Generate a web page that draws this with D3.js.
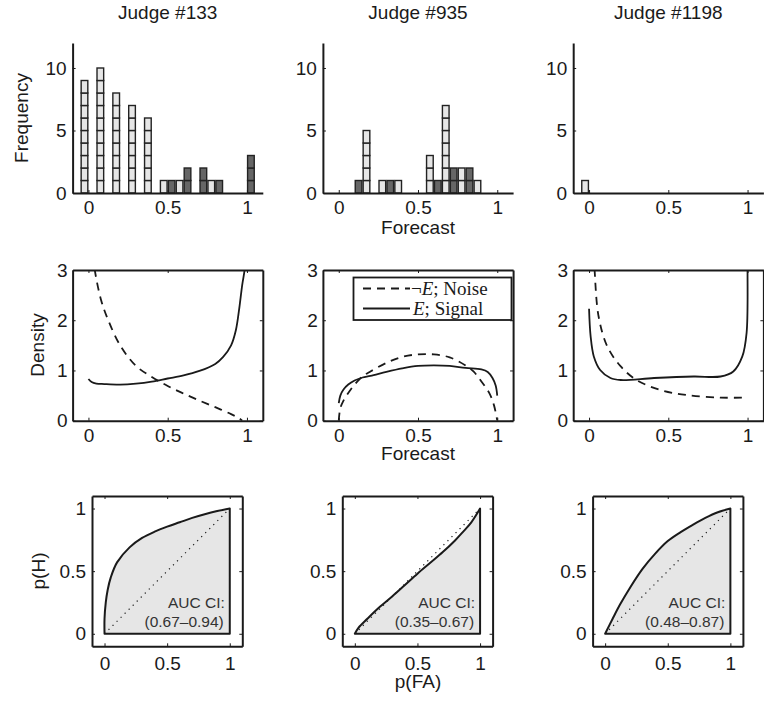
<!DOCTYPE html>
<html><head><meta charset="utf-8">
<script src="https://cdn.jsdelivr.net/npm/d3@7"></script>
<style>body{margin:0;background:#fff} svg{display:block}</style>
</head><body><svg id="c" width="764" height="703"></svg>
<script>
// ---------- data ----------
const judges = ["Judge #133", "Judge #935", "Judge #1198"];
const forecastTicks = [0, 0.5, 1];
const freqTicks = [0, 5, 10];
const densityTicks = [0, 1, 2, 3];
const rocTicks = [0, 0.5, 1];

// histogram bins (bin centre) and counts; light = noise, dark = signal
const noiseBins133 = [-0.025, 0.075, 0.175, 0.275, 0.375, 0.475, 0.575, 0.775];
const noiseCounts133 = [9, 10, 8, 7, 6, 1, 1, 1];
const signalBins133 = [0.525, 0.625, 0.725, 0.825, 1.025];
const signalCounts133 = [1, 2, 2, 1, 3];
const noiseBins935 = [0.175, 0.275, 0.375, 0.575, 0.675, 0.775, 0.875];
const noiseCounts935 = [5, 1, 1, 3, 7, 2, 1];
const signalBins935 = [0.125, 0.325, 0.625, 0.725, 0.825];
const signalCounts935 = [1, 1, 1, 2, 2];
const noiseBins1198 = [-0.025];
const noiseCounts1198 = [1];
const signalBins1198 = [];
const signalCounts1198 = [];

// density curves [forecast, density]
const noiseDens133 = [[0.03,3.3],[0.04,3.0],[0.08,2.4],[0.125,2.0],[0.2,1.5],[0.3,1.09],[0.4,0.87],[0.5,0.69],[0.6,0.54],[0.7,0.40],[0.8,0.27],[0.9,0.13],[0.95,0.05],[0.97,0]];
const signalDens133 = [[0,0.83],[0.02,0.77],[0.05,0.74],[0.1,0.73],[0.2,0.72],[0.3,0.74],[0.4,0.78],[0.5,0.84],[0.6,0.9],[0.7,0.99],[0.8,1.13],[0.85,1.27],[0.9,1.5],[0.93,1.8],[0.95,2.2],[0.97,2.7],[0.985,3.0],[0.99,3.3]];
const noiseDens935 = [[0,0],[0.01,0.25],[0.03,0.4],[0.06,0.55],[0.1,0.72],[0.15,0.88],[0.2,0.98],[0.3,1.15],[0.4,1.27],[0.5,1.32],[0.6,1.32],[0.7,1.26],[0.8,1.1],[0.85,0.98],[0.9,0.78],[0.95,0.55],[0.98,0.3],[1.0,0]];
const signalDens935 = [[0,0.35],[0.01,0.5],[0.03,0.62],[0.06,0.72],[0.1,0.8],[0.15,0.86],[0.2,0.89],[0.3,0.97],[0.4,1.04],[0.5,1.09],[0.6,1.1],[0.7,1.09],[0.8,1.05],[0.9,1.02],[0.94,0.97],[0.97,0.85],[0.99,0.7],[1.0,0.5]];
const noiseDens1198 = [[0.03,3.3],[0.035,3.0],[0.06,2.08],[0.115,1.48],[0.2,1.08],[0.3,0.81],[0.45,0.61],[0.62,0.51],[0.83,0.46],[1.0,0.46]];
const signalDens1198 = [[0,2.23],[0.01,1.68],[0.03,1.28],[0.07,1.01],[0.135,0.85],[0.2,0.81],[0.41,0.85],[0.66,0.88],[0.83,0.88],[0.91,0.98],[0.967,1.28],[0.994,1.75],[1.0,3.0],[1.0,3.3]];

// ROC curves [p(FA), p(H)]
const roc133 = [[0,0],[0,0.12],[0.01,0.25],[0.025,0.35],[0.05,0.45],[0.1,0.57],[0.2,0.69],[0.3,0.765],[0.4,0.815],[0.5,0.855],[0.6,0.89],[0.7,0.925],[0.8,0.955],[0.9,0.98],[1,1]];
const roc935 = [[0,0],[0.03,0.05],[0.1,0.12],[0.2,0.215],[0.3,0.3],[0.4,0.39],[0.5,0.48],[0.6,0.565],[0.7,0.65],[0.8,0.745],[0.86,0.81],[0.93,0.89],[1,1]];
const roc1198 = [[0,0],[0.06,0.12],[0.12,0.235],[0.2,0.37],[0.3,0.52],[0.4,0.64],[0.5,0.74],[0.6,0.81],[0.7,0.87],[0.8,0.925],[0.9,0.97],[1,1]];
const aucLabel = "AUC CI:";
const aucCI = ["(0.67\u20130.94)", "(0.35\u20130.67)", "(0.48\u20130.87)"];

const histNoise = [[noiseBins133, noiseCounts133],[noiseBins935, noiseCounts935],[noiseBins1198, noiseCounts1198]];
const histSignal = [[signalBins133, signalCounts133],[signalBins935, signalCounts935],[signalBins1198, signalCounts1198]];
const densNoise = [noiseDens133, noiseDens935, noiseDens1198];
const densSignal = [signalDens133, signalDens935, signalDens1198];
const rocs = [roc133, roc935, roc1198];

// ---------- drawing ----------
const svg = d3.select("#c");
const font = '"Liberation Sans", Arial, Helvetica, sans-serif';
const serif = '"Liberation Serif", "Times New Roman", serif';
const ink = "#1a1a1a";
const colOff = 250.3;
const barW = 0.042;
const FS = 19;
const fmt = d3.format("");

function styleAxis(g, labels) {
  g.attr("font-family", font).attr("font-size", FS);
  g.select(".domain").attr("stroke", ink).attr("stroke-width", 2);
  g.selectAll(".tick line").attr("stroke", ink).attr("stroke-width", 1);
  g.selectAll(".tick text").attr("fill", ink);
  if (!labels) g.selectAll(".tick text").remove();
}

for (let c = 0; c < 3; c++) {
  const off = c * colOff;
  // ---- Row 1: histogram ----
  const x1 = d3.scaleLinear().domain([-0.1, 1.1]).range([72.6 + off, 262.8 + off]);
  const y1 = d3.scaleLinear().domain([0, 12]).range([193, 43]);
  const g1 = svg.append("g");
  const cells = [];
  histNoise[c][0].forEach((b, i) => { for (let k = 0; k < histNoise[c][1][i]; k++) cells.push({b, k, fill: "#e6e6e6"}); });
  histSignal[c][0].forEach((b, i) => { for (let k = 0; k < histSignal[c][1][i]; k++) cells.push({b, k, fill: "#666"}); });
  g1.selectAll("rect").data(cells).join("rect")
    .attr("x", d => x1(d.b - barW / 2)).attr("width", x1(barW) - x1(0))
    .attr("y", d => y1(d.k + 1)).attr("height", y1(0) - y1(1))
    .attr("fill", d => d.fill).attr("stroke", "#222").attr("stroke-width", 1.4);
  g1.append("g").attr("transform", `translate(0,${y1(0)})`)
    .call(d3.axisBottom(x1).tickValues(forecastTicks).tickFormat(fmt).tickSize(-3).tickSizeOuter(0).tickPadding(8))
    .call(g => styleAxis(g, true));
  g1.append("g").attr("transform", `translate(${x1(-0.1)},0)`)
    .call(d3.axisLeft(y1).tickValues(freqTicks).tickFormat(fmt).tickSize(-3).tickSizeOuter(0).tickPadding(6))
    .call(g => styleAxis(g, true));
  svg.append("text").attr("x", (x1(-0.1) + x1(1.1)) / 2).attr("y", 19)
    .attr("text-anchor", "middle").attr("font-family", font).attr("font-size", FS).attr("fill", ink)
    .text(judges[c]);

  // ---- Row 2: density ----
  const x2 = d3.scaleLinear().domain([-0.1, 1.1]).range([72.6 + off, 262.8 + off]);
  const y2 = d3.scaleLinear().domain([0, 3]).range([420.7, 270]);
  const g2 = svg.append("g");
  const clipId = "clip" + c;
  svg.append("clipPath").attr("id", clipId).append("rect")
    .attr("x", x2(-0.1)).attr("y", y2(3)).attr("width", x2(1.1) - x2(-0.1)).attr("height", y2(0) - y2(3));
  const line2 = d3.line().x(d => x2(d[0])).y(d => y2(d[1])).curve(d3.curveCatmullRom.alpha(0.5));
  g2.append("path").attr("d", line2(densNoise[c])).attr("clip-path", `url(#${clipId})`)
    .attr("fill", "none").attr("stroke", ink).attr("stroke-width", 1.8).attr("stroke-dasharray", "8,6");
  g2.append("path").attr("d", line2(densSignal[c])).attr("clip-path", `url(#${clipId})`)
    .attr("fill", "none").attr("stroke", ink).attr("stroke-width", 1.8);
  g2.append("g").attr("transform", `translate(0,${y2(0)})`)
    .call(d3.axisBottom(x2).tickValues(forecastTicks).tickFormat(fmt).tickSize(-3).tickSizeOuter(0).tickPadding(8))
    .call(g => styleAxis(g, true));
  g2.append("g").attr("transform", `translate(0,${y2(3)})`)
    .call(d3.axisTop(x2).tickValues(forecastTicks).tickSize(-3).tickSizeOuter(0))
    .call(g => styleAxis(g, false));
  g2.append("g").attr("transform", `translate(${x2(-0.1)},0)`)
    .call(d3.axisLeft(y2).tickValues(densityTicks).tickFormat(fmt).tickSize(-3).tickSizeOuter(0).tickPadding(5))
    .call(g => styleAxis(g, true));
  g2.append("g").attr("transform", `translate(${x2(1.1)},0)`)
    .call(d3.axisRight(y2).tickValues(densityTicks).tickSize(-3).tickSizeOuter(0))
    .call(g => styleAxis(g, false));

  // ---- Row 3: ROC ----
  const x3 = d3.scaleLinear().domain([-0.1, 1.1]).range([92 + off, 242.3 + off]);
  const y3 = d3.scaleLinear().domain([-0.1, 1.1]).range([646.3, 496]);
  const g3 = svg.append("g");
  const line3 = d3.line().x(d => x3(d[0])).y(d => y3(d[1])).curve(d3.curveCatmullRom.alpha(0.5));
  const area = line3(rocs[c]) + `L${x3(1)},${y3(0)}L${x3(0)},${y3(0)}Z`;
  g3.append("path").attr("d", area).attr("fill", "#e6e6e6").attr("stroke", "none");
  g3.append("line").attr("x1", x3(0)).attr("y1", y3(0)).attr("x2", x3(1)).attr("y2", y3(1))
    .attr("stroke", ink).attr("stroke-width", 1.2).attr("stroke-dasharray", "1.2,4.5");
  g3.append("path").attr("d", area).attr("fill", "none").attr("stroke", ink).attr("stroke-width", 2).attr("stroke-linejoin", "round");
  g3.append("text").attr("x", x3(1) - 5).attr("y", 608).attr("text-anchor", "end")
    .attr("font-family", font).attr("font-size", 15.5).attr("fill", "#333").text(aucLabel);
  g3.append("text").attr("x", x3(1) - 6).attr("y", 627).attr("text-anchor", "end")
    .attr("font-family", font).attr("font-size", 15.5).attr("fill", "#333").text(aucCI[c]);
  g3.append("g").attr("transform", `translate(0,${y3(-0.1)})`)
    .call(d3.axisBottom(x3).tickValues(rocTicks).tickFormat(fmt).tickSize(-3).tickSizeOuter(0).tickPadding(10))
    .call(g => styleAxis(g, true));
  g3.append("g").attr("transform", `translate(0,${y3(1.1)})`)
    .call(d3.axisTop(x3).tickValues(rocTicks).tickSize(-3).tickSizeOuter(0))
    .call(g => styleAxis(g, false));
  g3.append("g").attr("transform", `translate(${x3(-0.1)},0)`)
    .call(d3.axisLeft(y3).tickValues(rocTicks).tickFormat(fmt).tickSize(-3).tickSizeOuter(0).tickPadding(6))
    .call(g => styleAxis(g, true));
  g3.append("g").attr("transform", `translate(${x3(1.1)},0)`)
    .call(d3.axisRight(y3).tickValues(rocTicks).tickSize(-3).tickSizeOuter(0))
    .call(g => styleAxis(g, false));
}

// legend (middle density panel)
const lg = svg.append("g");
lg.append("rect").attr("x", 353.5).attr("y", 277.5).attr("width", 158).attr("height", 42.5)
  .attr("fill", "#fff").attr("stroke", ink).attr("stroke-width", 1.8);
lg.append("line").attr("x1", 363).attr("x2", 410).attr("y1", 288.5).attr("y2", 288.5)
  .attr("stroke", ink).attr("stroke-width", 1.8).attr("stroke-dasharray", "8,6");
lg.append("line").attr("x1", 363).attr("x2", 410).attr("y1", 308.5).attr("y2", 308.5)
  .attr("stroke", ink).attr("stroke-width", 1.8);
const t1 = lg.append("text").attr("x", 411).attr("y", 295).attr("font-family", serif).attr("font-size", 19).attr("fill", ink);
t1.append("tspan").text("\u00ac");
t1.append("tspan").attr("font-style", "italic").text("E");
t1.append("tspan").text("; Noise");
const t2 = lg.append("text").attr("x", 413).attr("y", 315).attr("font-family", serif).attr("font-size", 19).attr("fill", ink);
t2.append("tspan").attr("font-style", "italic").text("E");
t2.append("tspan").text("; Signal");

// axis titles
function label(x, y, txt, rot) {
  const t = svg.append("text").attr("font-family", font).attr("font-size", FS).attr("fill", ink)
    .attr("text-anchor", "middle").text(txt);
  if (rot) t.attr("transform", `translate(${x},${y}) rotate(-90)`);
  else t.attr("x", x).attr("y", y);
}
label(28, 118, "Frequency", true);
label(44, 345, "Density", true);
label(45, 571, "p(H)", true);
label(418, 234, "Forecast", false);
label(418, 460, "Forecast", false);
label(418, 688, "p(FA)", false);
</script></body></html>
